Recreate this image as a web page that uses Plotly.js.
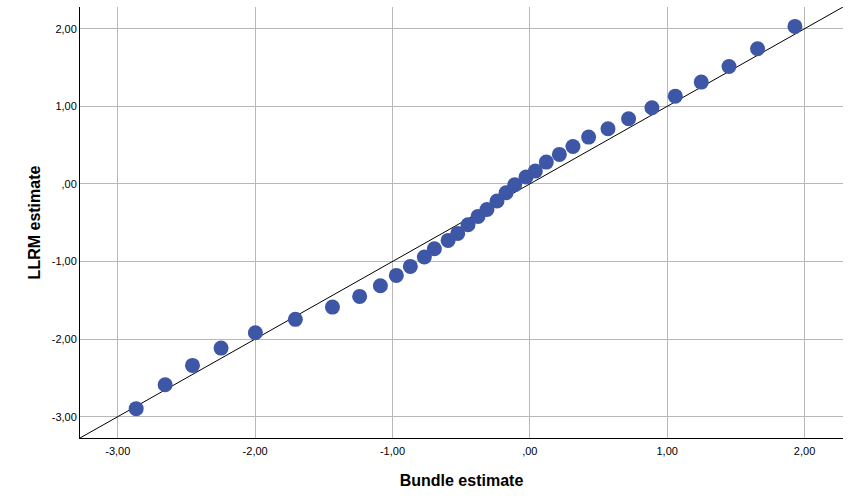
<!DOCTYPE html>
<html>
<head>
<meta charset="utf-8">
<script src="https://cdn.plot.ly/plotly-3.0.1.min.js"></script>
<style>html,body{margin:0;padding:0;background:#fff;}#chart{width:853px;height:503px;}</style>
</head>
<body>
<div id="chart"></div>
<script>
const bundleEstimate = [-2.866,-2.655,-2.456,-2.248,-1.998,-1.707,-1.437,-1.239,-1.088,-0.972,-0.870,-0.768,-0.695,-0.595,-0.525,-0.450,-0.377,-0.312,-0.239,-0.173,-0.110,-0.028,0.040,0.120,0.215,0.314,0.428,0.569,0.719,0.889,1.059,1.248,1.450,1.658,1.930];
const llrmEstimate = [-2.897,-2.588,-2.339,-2.116,-1.918,-1.746,-1.588,-1.450,-1.312,-1.179,-1.063,-0.943,-0.835,-0.728,-0.638,-0.526,-0.419,-0.329,-0.221,-0.114,-0.011,0.088,0.165,0.281,0.380,0.483,0.603,0.711,0.840,0.982,1.131,1.312,1.514,1.742,2.030];
const refLine = [-3.275, 2.28];
const tickVals = [-3,-2,-1,0,1,2];
const tickLabels = ['-3,00','-2,00','-1,00',',00','1,00','2,00'];

const data = [
  {x: refLine, y: refLine, mode:'lines', type:'scatter', line:{color:'#000', width:1}, hoverinfo:'skip'},
  {x: bundleEstimate, y: llrmEstimate, mode:'markers', type:'scatter',
   marker:{color:'#3d56a6', size:15, line:{width:0}}}
];
const axisCommon = {
  range: refLine, tickvals: tickVals, ticktext: tickLabels,
  showgrid:true, gridcolor:'#b8b8b8', gridwidth:1, zeroline:false,
  showline:true, linecolor:'#000', linewidth:1, ticks:'',
  tickfont:{family:'Liberation Sans, Arial', size:11, color:'#000'}
};
const layout = {
  width:853, height:503, showlegend:false,
  paper_bgcolor:'#fff', plot_bgcolor:'#fff',
  margin:{l:80, r:10, t:7, b:65},
  font:{family:'Liberation Sans, Arial', color:'#000'},
  xaxis: Object.assign({}, axisCommon, {
    ticklabelstandoff: 3,
    title:{text:'<b>Bundle estimate</b>', font:{size:16, family:'Liberation Sans, Arial', color:'#000'}, standoff:18}
  }),
  yaxis: Object.assign({}, axisCommon, {
    title:{text:'<b>LLRM estimate</b>', font:{size:16, family:'Liberation Sans, Arial', color:'#000'}, standoff:7}
  })
};
Plotly.newPlot('chart', data, layout, {staticPlot:true, displayModeBar:false});
</script>
</body>
</html>
